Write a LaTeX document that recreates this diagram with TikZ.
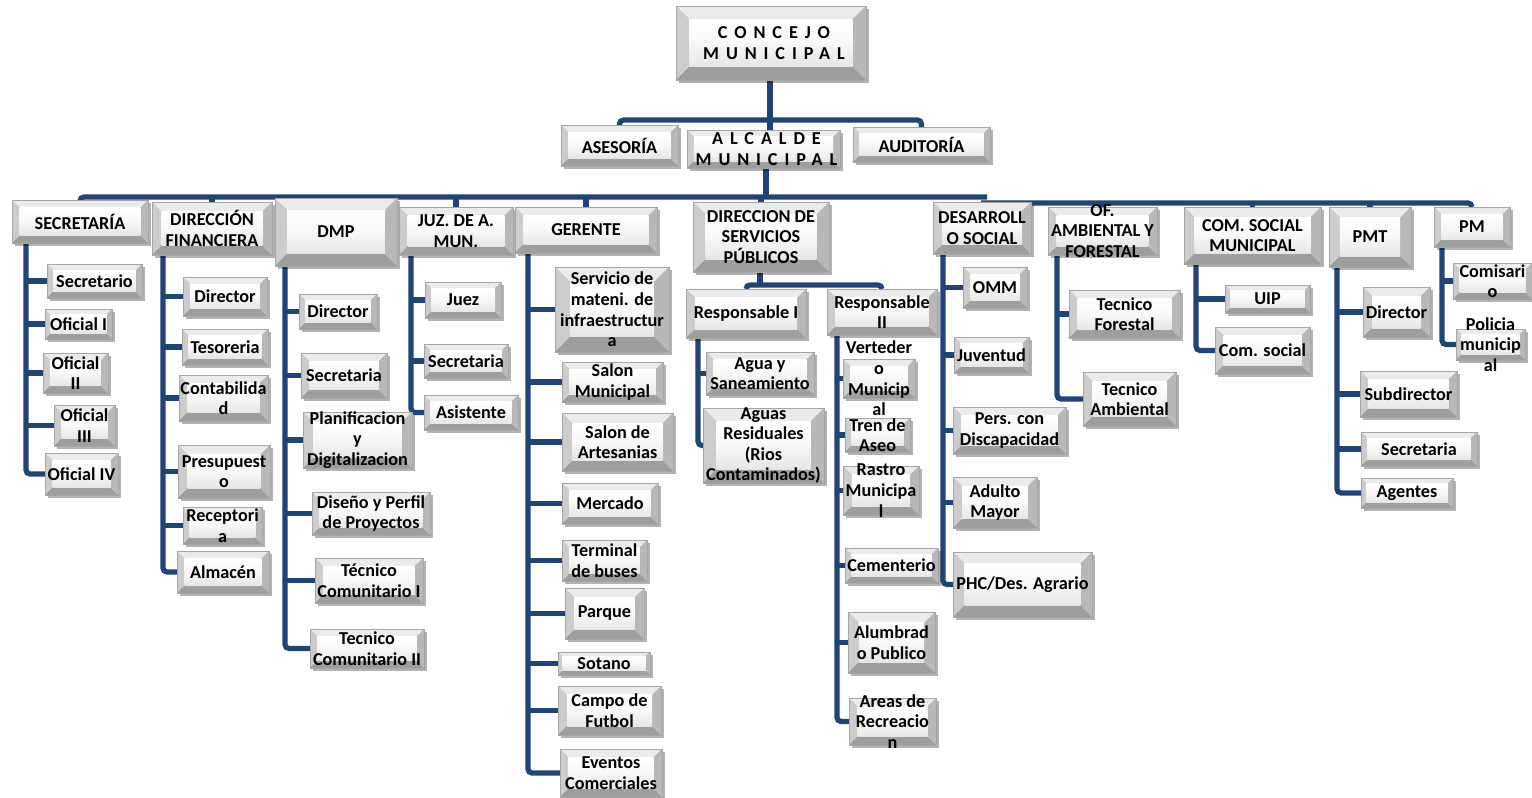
\documentclass[tikz,border=0pt]{standalone}
\usepackage{fontspec}
\setmainfont{Carlito}
\usetikzlibrary{backgrounds,shadows}
\definecolor{lineblue}{RGB}{31,69,120}
\newcommand\bvv{3}
\tikzset{
  con/.style={draw=lineblue,line width=2.6pt},
  bev/.style={shape=rectangle,inner sep=0pt,outer sep=0pt,fill=black!30,draw=black!35,line width=0.3pt,
    drop shadow={shadow xshift=1.4pt,shadow yshift=-1.4pt,opacity=0.3,fill=black},
    path picture={
      \fill[black!8] (path picture bounding box.north west) -- (path picture bounding box.north east)
        -- ([xshift=-\bvv pt,yshift=-\bvv pt]path picture bounding box.north east)
        -- ([xshift=\bvv pt,yshift=-\bvv pt]path picture bounding box.north west) -- cycle;
      \fill[black!20] (path picture bounding box.north west) -- ([xshift=\bvv pt,yshift=-\bvv pt]path picture bounding box.north west)
        -- ([xshift=\bvv pt,yshift=\bvv pt]path picture bounding box.south west) -- (path picture bounding box.south west) -- cycle;
      \fill[black!38] (path picture bounding box.south west) -- ([xshift=\bvv pt,yshift=\bvv pt]path picture bounding box.south west)
        -- ([xshift=-\bvv pt,yshift=\bvv pt]path picture bounding box.south east) -- (path picture bounding box.south east) -- cycle;
      \fill[black!28] (path picture bounding box.north east) -- ([xshift=-\bvv pt,yshift=-\bvv pt]path picture bounding box.north east)
        -- ([xshift=-\bvv pt,yshift=\bvv pt]path picture bounding box.south east) -- (path picture bounding box.south east) -- cycle;
      \shade[top color=white,bottom color=black!10,middle color=white!97!black]
        ([xshift=\bvv pt,yshift=-\bvv pt]path picture bounding box.north west)
        rectangle ([xshift=-\bvv pt,yshift=\bvv pt]path picture bounding box.south east);
    }},
  txt/.style={align=center,inner sep=0pt,text=black,font=\fontsize{9.1pt}{10.3pt}\selectfont\bfseries},
  lsp/.style={font=\fontsize{9.1pt}{10.4pt}\selectfont\bfseries\addfontfeatures{LetterSpace=38}}
}
% \bx[text options]{name}{x1}{y1}{x2}{y2}{text}
\newcommand\bx[7][]{%
  \pgfmathsetmacro\bvv{0.18*min(#5-#3,#6-#4)*0.5}%
  \node[bev,minimum width={(#5-#3)*0.5pt},minimum height={(#6-#4)*0.5pt}] (#2) at ({(#3+#5)/2},{(#4+#6)/2}) {};
  \node[txt,#1] (#2-t) at (#2.center) {#7};}
% \branch{parent}{x}{children}{last child}
\newcommand\branch[4]{%
  \coordinate (#1v) at (#2,0);
  \draw[con,rounded corners=2pt] (#1.south -| #1v) |- (#4.west);
  \foreach \c in {#3} {\draw[con] (#1v |- \c.west) -- (\c.west);}}
\begin{document}
\begin{tikzpicture}[x=0.5pt,y=-0.5pt]
\useasboundingbox (0,0) rectangle (1532,798);
% top
\bx[lsp,xshift=1.5pt]{con}{676}{6}{866}{80}{CONCEJO\\MUNICIPAL}
\bx{ases}{561}{125}{678}{166}{ASESORÍA}
\bx[lsp,xshift=1.5pt]{alc}{687}{130}{840}{168}{ALCALDE\\MUNICIPAL}
\bx{aud}{853}{127}{990}{162}{AUDITORÍA}
% departments
\bx{sec}{12}{200}{148}{243}{SECRETARÍA}
\bx{df}{152}{202}{272}{255}{DIRECCIÓN\\FINANCIERA}
\bx{dmp}{275}{198}{397}{266}{DMP}
\bx{juz}{399}{207}{513}{255}{JUZ. DE A.\\MUN.}
\bx{ger}{515}{207}{657}{253}{GERENTE}
\bx{dsp}{693}{202}{829}{272}{DIRECCION DE\\SERVICIOS\\PÚBLICOS}
\bx{des}{933}{202}{1031}{254}{DESARROLL\\O SOCIAL}
\bx{ofa}{1048}{207}{1157}{255}{OF.\\AMBIENTAL Y\\FORESTAL}
\bx{com}{1184}{207}{1321}{264}{COM. SOCIAL\\MUNICIPAL}
\bx{pmt}{1329}{207}{1411}{267}{PMT}
\bx{pm}{1434}{207}{1510}{247}{PM}
% secretaria
\bx{s1}{47}{264}{142}{298}{Secretario}
\bx{s2}{45}{309}{112}{339}{Oficial I}
\bx{s3}{43}{353}{108}{393}{Oficial\\II}
\bx{s4}{54}{405}{115}{446}{Oficial\\III}
\bx{s5}{45}{453}{118}{495}{Oficial IV}
% direccion financiera
\bx{d1}{183}{277}{267}{316}{Director}
\bx{d2}{182}{329}{268}{365}{Tesoreria}
\bx{d3}{179}{375}{268}{421}{Contabilida\\d}
\bx{d4}{178}{445}{270}{498}{Presupuest\\o}
\bx{d5}{183}{507}{262}{544}{Receptori\\a}
\bx{d6}{177}{551}{269}{593}{Almacén}
% dmp
\bx{m1}{299}{294}{377}{329}{Director}
\bx{m2}{301}{353}{387}{398}{Secretaria}
\bx{m3}{303}{412}{412}{468}{Planificacion\\y\\Digitalizacion}
\bx{m4}{312}{492}{430}{535}{Diseño y Perfil\\de Proyectos}
\bx{m5}{315}{558}{423}{603}{Técnico\\Comunitario I}
\bx{m6}{310}{629}{424}{668}{Tecnico\\Comunitario II}
% juzgado
\bx{j1}{425}{282}{501}{318}{Juez}
\bx{j2}{424}{344}{508}{378}{Secretaria}
\bx{j3}{424}{395}{518}{430}{Asistente}
% gerente
\bx{g1}{555}{267}{669}{352}{Servicio de\\mateni. de\\infraestructur\\a}
\bx{g2}{562}{362}{663}{402}{Salon\\Municipal}
\bx{g3}{562}{413}{673}{471}{Salon de\\Artesanias}
\bx{g4}{562}{483}{658}{524}{Mercado}
\bx{g5}{562}{540}{647}{581}{Terminal\\de buses}
\bx{g6}{565}{588}{644}{639}{Parque}
\bx{g7}{558}{652}{650}{675}{Sotano}
\bx{g8}{558}{686}{661}{735}{Campo de\\Futbol}
\bx{g9}{560}{749}{662}{797}{Eventos\\Comerciales}
% servicios publicos
\bx{r1}{686}{289}{806}{338}{Responsable I}
\bx{r2}{827}{289}{937}{335}{Responsable\\II}
\bx{a1}{706}{352}{814}{395}{Agua y\\Saneamiento}
\bx{a2}{703}{408}{824}{483}{Aguas\\Residuales\\(Rios\\Contaminados)}
\bx{b1}{843}{359}{915}{398}{Verteder\\o\\Municip\\al}
\bx{b2}{845}{418}{910}{452}{Tren de\\Aseo}
\bx{b3}{843}{466}{919}{515}{Rastro\\Municipa\\l}
\bx{b4}{845}{548}{938}{583}{Cementerio}
\bx{b5}{848}{612}{935}{673}{Alumbrad\\o Publico}
\bx{b6}{849}{698}{936}{745}{Areas de\\Recreacio\\n}
% desarrollo social
\bx{e1}{963}{267}{1027}{308}{OMM}
\bx{e2}{954}{337}{1029}{373}{Juventud}
\bx{e3}{953}{407}{1066}{454}{Pers. con\\Discapacidad}
\bx{e4}{953}{477}{1037}{528}{Adulto\\Mayor}
\bx{e5}{953}{552}{1092}{617}{PHC/Des. Agrario}
% ambiental
\bx{f1}{1069}{290}{1180}{338}{Tecnico\\Forestal}
\bx{f2}{1083}{372}{1176}{426}{Tecnico\\Ambiental}
% com social
\bx{c1}{1225}{285}{1310}{313}{UIP}
\bx{c2}{1215}{327}{1310}{374}{Com. social}
% pmt
\bx{p1}{1363}{287}{1430}{337}{Director}
\bx{p2}{1360}{371}{1457}{417}{Subdirector}
\bx{p3}{1361}{432}{1477}{466}{Secretaria}
\bx{p4}{1361}{478}{1453}{508}{Agentes}
% pm
\bx{q1}{1453}{263}{1532}{299}{Comisari\\o}
\bx{q2}{1456}{329}{1525}{360}{Policia\\municip\\al}

\begin{pgfonlayer}{background}
  % top level
  \coordinate (topbus) at (770,120);
  \draw[con] (con.south -| topbus) -- (topbus |- alc.north);
  \draw[con,rounded corners=2pt] (ases.north) -- (ases.north |- topbus) -- (aud.north |- topbus) -- (aud.north);
  % main bus
  \coordinate (busL) at (766,197);
  \coordinate (busR) at (984,203);
  \draw[con] (alc.south -| busL) -- (busL);
  \draw[con,rounded corners=2pt] (sec.north) -- (sec.north |- busL) -- ([xshift=1.5pt]busR |- busL);
  \draw[con,rounded corners=2pt] ([xshift=-1.5pt]busR) -- (pm.north |- busR) -- (pm.north);
  \foreach \d in {df,dmp,juz,ger,dsp} {\draw[con] (\d.north |- busL) -- (\d.north);}
  \foreach \d in {des,ofa,com,pmt} {\draw[con] (\d.north |- busR) -- (\d.north);}
  % servicios publicos sub-bus
  \coordinate (dspb) at (760,285);
  \draw[con] (dsp.south -| dspb) -- (dspb);
  \draw[con,rounded corners=2pt] (r1.north) -- (r1.north |- dspb) -- (r2.north |- dspb) -- (r2.north);
  % branches
  \branch{sec}{26}{s1,s2,s3,s4}{s5}
  \branch{df}{163}{d1,d2,d3,d4,d5}{d6}
  \branch{dmp}{285}{m1,m2,m3,m4,m5}{m6}
  \branch{juz}{411}{j1,j2}{j3}
  \branch{ger}{528}{g1,g2,g3,g4,g5,g6,g7,g8}{g9}
  \branch{r1}{698}{a1}{a2}
  \branch{r2}{837}{b1,b2,b3,b4,b5}{b6}
  \branch{des}{943}{e1,e2,e3,e4}{e5}
  \branch{ofa}{1057}{f1}{f2}
  \branch{com}{1196}{c1}{c2}
  \branch{pmt}{1337}{p1,p2,p3}{p4}
  \branch{pm}{1442}{q1}{q2}
\end{pgfonlayer}
\end{tikzpicture}
\end{document}
